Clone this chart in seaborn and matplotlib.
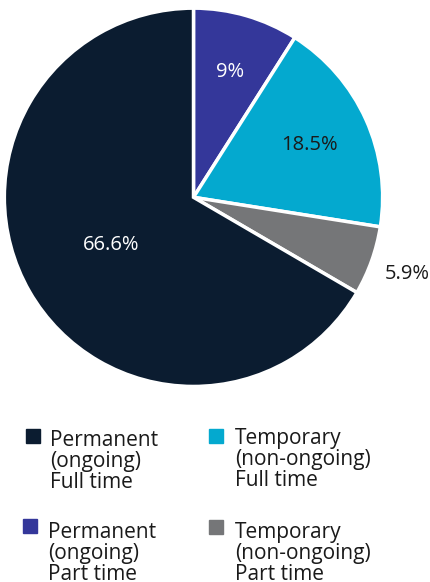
import numpy as np
import matplotlib.pyplot as plt
import seaborn as sns
from matplotlib.patches import Rectangle

# Datos
values = [9, 18.5, 5.9, 66.6]
value_labels = ["9%", "18.5%", "5.9%", "66.6%"]
colors = ["#34379a", "#04a9cf", "#757678", "#0b1c30"]
text_colors = ["white", "#1a1a1a", "#1a1a1a", "white"]
label_dist = [0.69, 0.67, 1.20, 0.505]

legend_labels = [
    "Permanent\n(ongoing)\nFull time",
    "Temporary\n(non-ongoing)\nFull time",
    "Permanent\n(ongoing)\nPart time",
    "Temporary\n(non-ongoing)\nPart time",
]
legend_colors = ["#0b1c30", "#04a9cf", "#34379a", "#757678"]

sns.set_theme(style="white")
plt.rcParams['font.family'] = ['Open Sans', 'DejaVu Sans']

fig = plt.figure(figsize=(4.30, 5.82), dpi=100)
ax = fig.add_axes([0.010, 0.336, 0.880, 0.650])

wedges, _ = ax.pie(
    values,
    colors=colors,
    startangle=90,
    counterclock=False,
    radius=1,
    wedgeprops=dict(edgecolor="white", linewidth=2.5),
)
ax.set_xlim(-1, 1)
ax.set_ylim(-1, 1)
ax.set_aspect("equal")
ax.axis("off")

# Etiquetas de porcentaje
for w, lab, tc, d in zip(wedges, value_labels, text_colors, label_dist):
    ang = np.deg2rad((w.theta1 + w.theta2) / 2)
    ax.text(d * np.cos(ang), d * np.sin(ang), lab, color=tc,
            fontsize=14.5, ha="center", va="center", clip_on=False)

# Leyenda manual (2 columnas): cuadro (x, y arriba), texto (x, base de la 1a línea)
sq = 14
squares = [(26, 429), (209, 429), (23, 519), (209, 520)]
texts = [(50, 445), (235, 443), (48, 537), (235, 537)]
line_px = 21.5
for (sx, sy), (tx, ty), lab, col in zip(squares, texts, legend_labels, legend_colors):
    fig.patches.append(Rectangle((sx / 430, 1 - (sy + sq) / 582), sq / 430, sq / 582,
                                 transform=fig.transFigure, color=col))
    # 'baseline' alinea la última línea
    fig.text(tx / 430, 1 - (ty + 2 * line_px) / 582, lab, fontsize=15,
             va="baseline", ha="left", color="#1a1a1a", linespacing=1.0)

plt.savefig("out.png", dpi=100)
plt.close()
